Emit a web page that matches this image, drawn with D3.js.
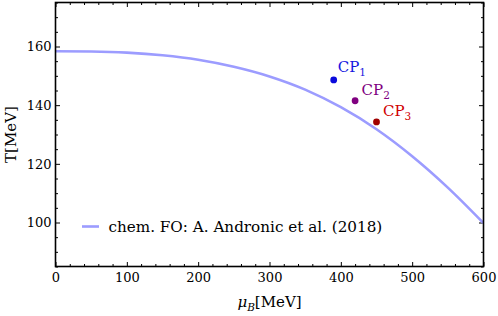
<!DOCTYPE html>
<html>
<head>
<meta charset="utf-8">
<script src="https://cdn.jsdelivr.net/npm/d3@7"></script>
<style>
body { margin: 0; background: #fff; }
svg { display: block; font-family: "DejaVu Serif", serif; }
</style>
</head>
<body>
<svg id="chart" width="498" height="316"></svg>
<script>
// freeze-out line
var foMu = [0, 50, 100, 150, 200, 250, 300, 350, 400, 450, 500, 550, 600];
var foT = [158.4, 158.3, 157.9, 157.0, 155.5, 153.1, 149.8, 145.3, 139.3, 131.8, 122.6, 111.9, 99.8];

// critical points
var cpNames = ["1", "2", "3"];
var cpMu = [390, 420, 450];
var cpT = [148.6, 141.5, 134.3];
var cpDotColors = ["#0a0adc", "#800080", "#a00000"];
var cpTextColors = ["#1515e0", "#800080", "#d00000"];

var xTicks = [0, 100, 200, 300, 400, 500, 600];
var yTicks = [100, 120, 140, 160];
var legendText = "chem. FO: A. Andronic et al. (2018)";

var svg = d3.select("#chart");
var plotLeft = 55.5, plotRight = 483.5, plotTop = 2.5, plotBottom = 266.5;

var x = d3.scaleLinear().domain([0, 600]).range([plotLeft, plotRight]);
var y = d3.scaleLinear().domain([85, 175]).range([plotBottom, plotTop]);

var xMinor = d3.range(0, 601, 20).filter(function(d) { return xTicks.indexOf(d) < 0; });
var yMinor = d3.range(85, 176, 5).filter(function(d) { return yTicks.indexOf(d) < 0; });

// inward ticks on all four sides
function drawTicks(axisFn, scale, values, size, translate, labels) {
    var g = svg.append("g")
    .attr("transform", translate)
    .call(axisFn(scale).tickValues(values).tickSizeInner(-size).tickSizeOuter(0)
        .tickFormat(labels ? d3.format("d") : ""));
    g.select(".domain").remove();
    g.selectAll(".tick line").attr("stroke", "#000").attr("stroke-width", 1);
    return g;
}

var bx = drawTicks(d3.axisBottom, x, xTicks, 4.5, "translate(0," + plotBottom + ")", true);
bx.selectAll(".tick text").attr("y", 6).attr("dy", "0.71em")
.style("font-size", "13px").style("font-family", "DejaVu Serif").attr("fill", "#000");
drawTicks(d3.axisBottom, x, xMinor, 2.5, "translate(0," + plotBottom + ")", false);
drawTicks(d3.axisTop, x, xTicks, 4.5, "translate(0," + plotTop + ")", false);
drawTicks(d3.axisTop, x, xMinor, 2.5, "translate(0," + plotTop + ")", false);

var ly = drawTicks(d3.axisLeft, y, yTicks, 4.5, "translate(" + plotLeft + ",0)", true);
ly.selectAll(".tick text").attr("x", -4)
.style("font-size", "13px").style("font-family", "DejaVu Serif").attr("fill", "#000");
drawTicks(d3.axisLeft, y, yMinor, 2.5, "translate(" + plotLeft + ",0)", false);
drawTicks(d3.axisRight, y, yTicks, 4.5, "translate(" + plotRight + ",0)", false);
drawTicks(d3.axisRight, y, yMinor, 2.5, "translate(" + plotRight + ",0)", false);

// freeze-out curve
var foData = foMu.map(function(m, i) { return [m, foT[i]]; });
var line = d3.line()
.x(function(d) { return x(d[0]); })
.y(function(d) { return y(d[1]); })
.curve(d3.curveMonotoneX);

svg.append("defs").append("clipPath").attr("id", "plotClip")
.append("rect").attr("x", plotLeft).attr("y", plotTop)
.attr("width", plotRight - plotLeft).attr("height", plotBottom - plotTop);

svg.append("path")
.datum(foData)
.attr("d", line)
.attr("clip-path", "url(#plotClip)")
.attr("fill", "none")
.attr("stroke", "#9c9cff")
.attr("stroke-width", 2.6);

// critical points
var cp = svg.append("g").selectAll("g")
.data(cpNames)
.enter().append("g");

cp.append("circle")
.attr("cx", function(d, i) { return x(cpMu[i]); })
.attr("cy", function(d, i) { return y(cpT[i]); })
.attr("r", 3.4)
.attr("fill", function(d, i) { return cpDotColors[i]; });

var cpLabel = cp.append("text")
.attr("x", function(d, i) { return x(cpMu[i]) + (i == 0 ? 4 : 6.5); })
.attr("y", function(d, i) { return y(cpT[i]) - (i == 0 ? 8 : 5.5); })
.attr("fill", function(d, i) { return cpTextColors[i]; })
.style("font-size", "15px");
cpLabel.append("tspan").text("CP");
cpLabel.append("tspan").attr("dy", 4).style("font-size", "10.5px").text(function(d) { return d; });

// frame
svg.append("rect")
.attr("x", plotLeft).attr("y", plotTop)
.attr("width", plotRight - plotLeft).attr("height", plotBottom - plotTop)
.attr("fill", "none").attr("stroke", "#000").attr("stroke-width", 1.6);

// legend
svg.append("line")
.attr("x1", 82).attr("x2", 99).attr("y1", 226.5).attr("y2", 226.5)
.attr("stroke", "#9c9cff").attr("stroke-width", 2.6);
svg.append("text")
.attr("x", 108.5).attr("y", 231.5)
.style("font-size", "15.2px")
.attr("fill", "#000")
.text(legendText);

// axis titles
var xt = svg.append("text")
.attr("x", (plotLeft + plotRight) / 2).attr("y", 307)
.attr("text-anchor", "middle")
.style("font-size", "15px");
xt.append("tspan").style("font-style", "italic").text("\u03bc");
xt.append("tspan").attr("dy", 3.5).style("font-style", "italic").style("font-size", "10.5px").text("B");
xt.append("tspan").attr("dy", -3.5).text("[MeV]");

svg.append("text")
.attr("transform", "translate(16," + (plotTop + plotBottom) / 2 + ") rotate(-90)")
.attr("text-anchor", "middle")
.style("font-size", "15px")
.text("T[MeV]");
</script>
</body>
</html>
